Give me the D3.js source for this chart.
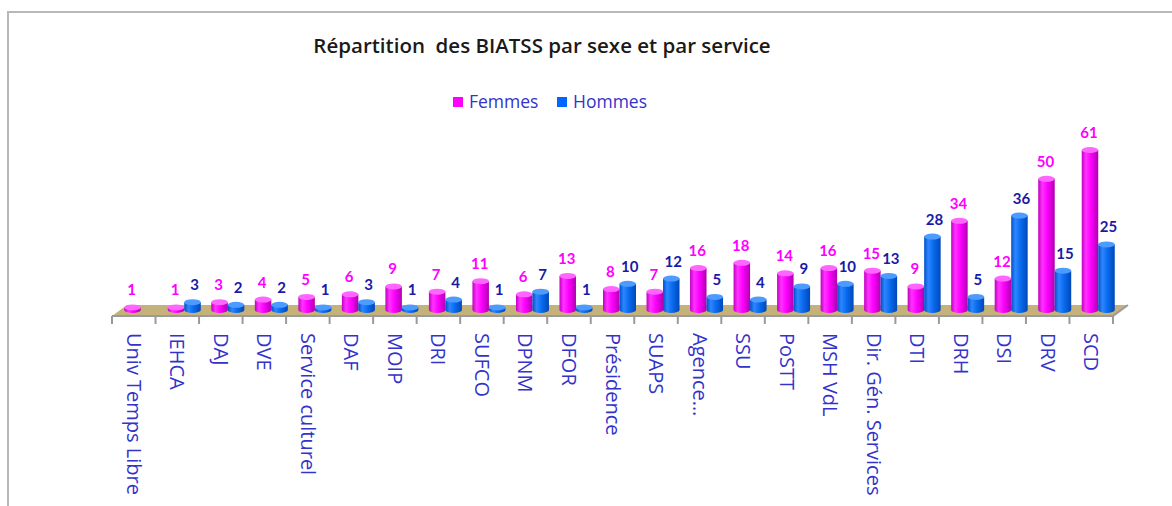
<!DOCTYPE html>
<html><head><meta charset="utf-8">
<script src="https://cdn.jsdelivr.net/npm/d3@7"></script>
<style>body{margin:0;background:#fff}svg{display:block}</style>
</head><body>
<script>
const categories = ["Univ Temps Libre","IEHCA","DAJ","DVE","Service culturel","DAF","MOIP","DRI","SUFCO","DPNM","DFOR","Présidence","SUAPS","Agence…","SSU","PoSTT","MSH VdL","Dir. Gén. Services","DTI","DRH","DSI","DRV","SCD"];
const femmes = [1,1,3,4,5,6,9,7,11,6,13,8,7,16,18,14,16,15,9,34,12,50,61];
const hommes = [null,3,2,2,1,3,1,4,1,7,1,10,12,5,4,9,10,13,28,5,36,15,25];
const seriesNames = ["Femmes","Hommes"];

const W = 1172, H = 506;
const svg = d3.select("body").append("svg").attr("width", W).attr("height", H);
const defs = svg.append("defs");
function grad(id, stops){
  const g = defs.append("linearGradient").attr("id", id).attr("x1","0").attr("x2","1").attr("y1","0").attr("y2","0");
  stops.forEach(([o,c]) => g.append("stop").attr("offset", o).attr("stop-color", c));
}
grad("gF", [[0,"#c000c0"],[0.25,"#ff33ff"],[0.55,"#ff00ff"],[1,"#b000b0"]]);
grad("gH", [[0,"#0050c8"],[0.25,"#2e86ff"],[0.55,"#0a6cf0"],[1,"#0048b8"]]);
const topF = "#ff66ff", topH = "#4d9bff";

// frame
svg.append("path").attr("d", `M8,${H} L8,12 L${W},12`).attr("fill","none").attr("stroke","#b8b8b8").attr("stroke-width",2);

// title
svg.append("text").attr("x", 542).attr("y", 53).attr("text-anchor","middle")
  .attr("font-family","'Open Sans', sans-serif").attr("font-weight","600").attr("font-size",20.5)
  .attr("fill","#1a1a1a").attr("xml:space","preserve").text("Répartition  des BIATSS par sexe et par service");

// legend
const legend = [{n:seriesNames[0], c:"#ff00ff", x:453},{n:seriesNames[1], c:"#0066ff", x:557}];
legend.forEach(l => {
  svg.append("rect").attr("x", l.x).attr("y", 97).attr("width", 10).attr("height", 10).attr("fill", l.c);
  svg.append("text").attr("x", l.x + 16).attr("y", 108).attr("font-family","'Open Sans', sans-serif")
    .attr("font-size",17.5).attr("fill","#3333cc").text(l.n);
});

// scales
const x = d3.scaleBand().domain(categories).range([112, 1113]).padding(0);
const y = d3.scaleLinear().domain([0, 61]).range([310, 150]);
const depth = 15, floorBack = 305, floorFront = 316;

// floor
svg.append("path").attr("d", `M${x.range()[0]},${floorFront} L${x.range()[0]+depth},${floorBack} L${x.range()[1]+depth},${floorBack} L${x.range()[1]},${floorFront} Z`)
  .attr("fill","#c4b27a");
svg.append("path").attr("d", `M${x.range()[0]},${floorFront} L${x.range()[1]},${floorFront} L${x.range()[1]+depth},${floorBack}`)
  .attr("fill","none").attr("stroke","#9a9a9a").attr("stroke-width",2);

// ticks
const tickXs = categories.map(c => x(c)).concat([x.range()[1]]);
svg.append("g").selectAll("line").data(tickXs).join("line")
  .attr("x1", d => d).attr("x2", d => d).attr("y1", floorFront).attr("y2", floorFront + 8)
  .attr("stroke","#9a9a9a").attr("stroke-width",2);

// bars
const bw = 16.5;
const inner = (x.bandwidth() - 2*bw)/2 + 7;
function cyl(g, cx0, v, fillId, topC){
  if (v == null) return;
  const x0 = cx0, x1 = cx0 + bw, rx = bw/2, ry = 3;
  const yt = y(v), yb = y(0);
  g.append("path").attr("d", `M${x0},${yt} L${x0},${yb} A${rx},${ry} 0 0 0 ${x1},${yb} L${x1},${yt} Z`).attr("fill", `url(#${fillId})`);
  g.append("ellipse").attr("cx", x0 + rx).attr("cy", yt).attr("rx", rx).attr("ry", ry).attr("fill", topC);
}
const bars = svg.append("g");
categories.forEach((c, i) => {
  const xf = x(c) + inner, xh = xf + bw;
  cyl(bars, xf, femmes[i], "gF", topF);
  cyl(bars, xh, hommes[i], "gH", topH);
});

// value labels
const lbl = svg.append("g").attr("font-family","'Lato', sans-serif").attr("font-weight","bold").attr("font-size",15).attr("text-anchor","middle");
categories.forEach((c, i) => {
  const xf = x(c) + inner, xh = xf + bw;
  if (femmes[i] != null) lbl.append("text").attr("x", xf + bw/2 - 1).attr("y", y(femmes[i]) - 12).attr("fill","#ff00ff").text(femmes[i]);
  if (hommes[i] != null) lbl.append("text").attr("x", xh + bw/2 + 2).attr("y", y(hommes[i]) - 12).attr("fill","#1a1aa8").text(hommes[i]);
});

// category labels (rotated)
svg.append("g").selectAll("text").data(categories).join("text")
  .attr("transform", d => `translate(${x(d) + x.bandwidth()/2 - 7},333) rotate(90)`)
  .attr("font-family","'Open Sans', sans-serif").attr("font-size",20).attr("fill","#3333cc")
  .text(d => d);
</script>
</body></html>
